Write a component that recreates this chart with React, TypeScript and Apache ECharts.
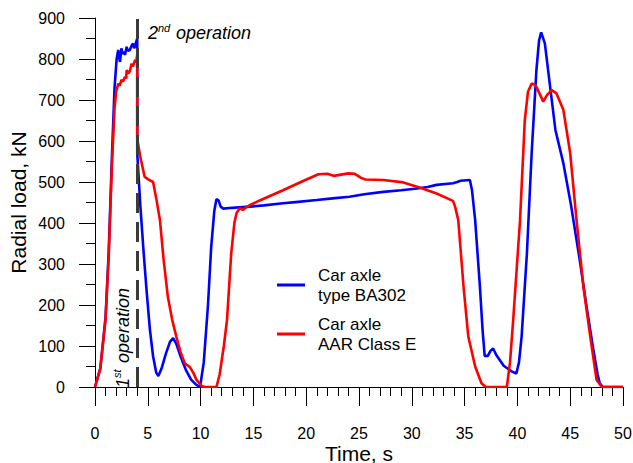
import React, { useEffect, useRef } from "react";
import * as echarts from "echarts";

const FONT = "'Liberation Sans', Arial, sans-serif";

const seriesNames = ["Car axle\ntype BA302", "Car axle\nAAR Class E"];
const seriesColors = ["#0000ff", "#ff0000"];

const blueTime = [
  0, 0.5, 1.0, 1.3, 1.6, 1.85, 2.05, 2.2, 2.3, 2.37, 2.5, 2.6, 2.75, 2.84, 3.0, 3.1, 3.3, 3.45, 3.6, 3.7, 3.8, 3.9, 4.0,
  4.0, 4.3, 4.6, 4.9, 5.2, 5.5, 5.8, 6.0, 6.3, 6.7, 7.1, 7.4, 7.7, 8.1, 8.6, 9.1, 9.6, 9.95,
  10.3, 10.7, 11.0, 11.3, 11.5, 11.7, 11.9, 12.15, 13, 14, 14.7, 16, 17.8, 19, 21, 22.5, 24.1, 25.5, 27.3, 29, 30.5,
  31.5, 32.35, 33.9, 34.3, 34.6, 35.5, 35.7, 36.0, 36.45, 36.7, 36.9, 37.2, 37.45, 37.7, 38.0, 38.7, 39.45, 39.9,
  40.15, 40.4, 40.9, 41.35, 41.8, 42.05, 42.25, 42.6, 43.1, 43.6, 44.35, 45.1, 45.9, 46.55, 47.2, 47.6, 47.8, 48.1, 50,
];
const blueLoad = [
  0, 45, 170, 330, 560, 730, 800, 822, 800, 793, 826, 812, 818, 810, 830, 820, 822, 832, 838, 826, 832, 842, 850,
  570, 440, 330, 230, 140, 75, 35, 27, 45, 80, 110, 119, 105, 75, 42, 18, 5, 0,
  60, 200, 340, 430, 458, 455, 440, 435, 437, 439, 440, 443, 448, 451, 456, 460, 464, 470, 476, 480, 484,
  488, 493, 497, 500, 503, 505, 480, 407, 245, 140, 76, 76, 88, 94, 78, 52, 38, 33,
  60, 123, 326, 570, 773, 845, 865, 838, 732, 627, 546, 440, 310, 196, 90, 30, 9, 0, 0,
];

const redTime = [
  0, 0.5, 1.0, 1.3, 1.6, 1.85, 2.0, 2.2, 2.35, 2.5, 2.65, 2.84, 2.95, 3.0, 3.15, 3.3, 3.47, 3.6, 3.8, 3.9, 4.0,
  4.0, 4.3, 4.7, 5.0, 5.5, 5.8, 6.15, 6.5, 6.9, 7.3, 7.7, 8.1, 8.5, 9.0, 9.3, 9.6, 10.1, 10.5, 11.5,
  11.8, 12.2, 12.5, 12.9, 13.2, 13.4, 13.7, 14.0, 14.3, 14.7, 15.6, 17.8, 19.5, 21.15, 22.0, 22.6, 24.0, 24.6, 25.2,
  25.6, 27.3, 29.2, 30.8, 32.35, 33.9, 34.1, 34.4, 34.9, 35.35, 36.0, 36.6, 37.0, 39.0,
  39.3, 39.6, 40.25, 40.7, 41.0, 41.35, 41.6, 41.8, 42.45, 42.8, 43.25, 43.7, 44.35, 45.0, 45.6, 46.25, 46.9, 47.5, 48.0, 50,
];
const redLoad = [
  0, 45, 165, 320, 540, 680, 720, 740, 735, 749, 745, 757, 752, 773, 765, 770, 789, 782, 798, 792, 810,
  605, 560, 513, 507, 500, 460, 407, 310, 220, 165, 123, 85, 58, 48, 35, 18, 2, 0, 0,
  30, 100, 163, 326, 400, 424, 436, 432, 438, 444, 455, 480, 500, 519, 520, 515, 521, 520, 510,
  506, 505, 499, 486, 472, 454, 440, 407, 245, 123, 50, 9, 0, 0,
  60, 163, 407, 651, 720, 740, 738, 732, 696, 712, 724, 716, 676, 570, 407, 245, 123, 17, 0, 0,
];

const xTicks = { min: 0, max: 50, interval: 5 };
const yTicks = { min: 0, max: 900, interval: 100 };
const operationSplitTime = 4;

function pairs(t: number[], v: number[]) {
  return t.map((x, i) => [x, v[i]]);
}

export default function App() {
  const ref = useRef<HTMLDivElement>(null);
  useEffect(() => {
    if (!ref.current) return;
    const chart = echarts.init(ref.current, undefined, { renderer: "svg" });
    const axisCommon = {
      axisLine: { show: true, lineStyle: { color: "#000", width: 1 } },
      splitLine: { show: false },
      axisLabel: { color: "#000", fontSize: 16, lineHeight: 16, fontFamily: FONT },
      nameTextStyle: { color: "#000", fontSize: 21, lineHeight: 20, fontFamily: FONT },
      nameMoveOverlap: false,
    };
    chart.setOption({
      animation: false,
      backgroundColor: "#fff",
      grid: { left: 95, right: 10, top: 18, bottom: 76, containLabel: false, outerBoundsMode: "none" },
      xAxis: {
        type: "value",
        ...xTicks,
        ...axisCommon,
        name: "Time, s",
        nameLocation: "middle",
        nameGap: 56,
        axisTick: { show: true, length: 19, lineStyle: { color: "#000" } },
        minorTick: { show: true, splitNumber: 5, length: 9, lineStyle: { color: "#000" } },
        axisLabel: { ...axisCommon.axisLabel, margin: 38 },
      },
      yAxis: {
        type: "value",
        ...yTicks,
        ...axisCommon,
        name: "Radial load, kN",
        nameLocation: "middle",
        nameGap: 67,
        axisTick: { show: true, length: 16, lineStyle: { color: "#000" } },
        minorTick: { show: true, splitNumber: 2, length: 9, lineStyle: { color: "#000" } },
        axisLabel: { ...axisCommon.axisLabel, margin: 30 },
      },
      legend: {
        show: true,
        orient: "vertical",
        left: 272,
        top: 260,
        itemWidth: 28,
        itemHeight: 3,
        itemGap: 9,
        icon: "rect",
        selectedMode: false,
        textStyle: { color: "#000", fontSize: 17, lineHeight: 20, fontFamily: FONT, padding: [0, 0, 0, 8] },
        data: seriesNames,
      },
      series: [
        {
          name: seriesNames[0],
          type: "line",
          data: pairs(blueTime, blueLoad),
          showSymbol: false,
          symbol: "none",
          lineStyle: { color: seriesColors[0], width: 2.6 },
          itemStyle: { color: seriesColors[0] },
          z: 2,
        },
        {
          name: seriesNames[1],
          type: "line",
          data: pairs(redTime, redLoad),
          showSymbol: false,
          symbol: "none",
          lineStyle: { color: seriesColors[1], width: 2.6 },
          itemStyle: { color: seriesColors[1] },
          z: 3,
          markLine: {
            silent: true,
            symbol: ["none", "none"],
            label: { show: false },
            lineStyle: { color: "#3a3a3a", width: 3, type: [20, 9] },
            data: [{ xAxis: operationSplitTime }],
            z: 5,
          },
        },
      ],
      graphic: [
        {
          type: "group",
          left: 148,
          top: 22,
          children: [
            { type: "text", x: 0, y: 0, style: { text: "2", fontSize: 18, fontStyle: "italic", fontFamily: FONT, fill: "#000" } },
            { type: "text", x: 10, y: -2, style: { text: "nd", fontSize: 11, fontStyle: "italic", fontFamily: FONT, fill: "#000" } },
            { type: "text", x: 28, y: 0, style: { text: "operation", fontSize: 18, fontStyle: "italic", fontFamily: FONT, fill: "#000" } },
          ],
        },
        {
          type: "group",
          x: 123,
          y: 388,
          rotation: Math.PI / 2,
          children: [
            { type: "text", x: 0, y: 0, style: { text: "1", fontSize: 18, fontStyle: "italic", fontFamily: FONT, fill: "#000", verticalAlign: "middle" } },
            { type: "text", x: 10, y: -6, style: { text: "st", fontSize: 11, fontStyle: "italic", fontFamily: FONT, fill: "#000", verticalAlign: "middle" } },
            { type: "text", x: 25, y: 0, style: { text: "operation", fontSize: 18, fontStyle: "italic", fontFamily: FONT, fill: "#000", verticalAlign: "middle" } },
          ],
        },
      ],
    });
    return () => chart.dispose();
  }, []);
  return <div ref={ref} style={{ position: "fixed", left: 0, top: 0, width: 633, height: 463 }} />;
}
